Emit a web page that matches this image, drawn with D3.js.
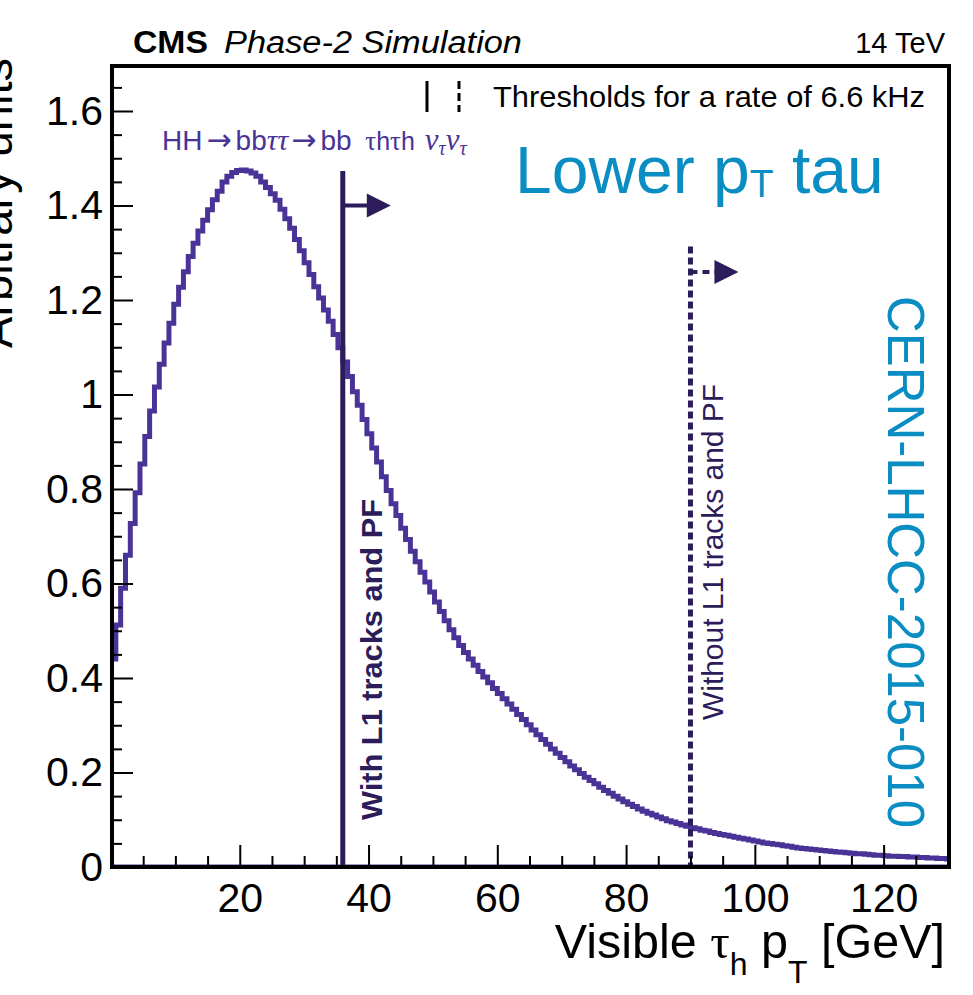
<!DOCTYPE html>
<html>
<head>
<meta charset="utf-8">
<script src="https://cdn.jsdelivr.net/npm/d3@7"></script>
<style>
  body { margin: 0; background: #fff; }
  text { font-family: "Liberation Sans", Arial, Helvetica, sans-serif; }
</style>
</head>
<body>
<div id="chart"></div>
<script>
// Histogram of visible tau_h pT, bins of 0.75 GeV starting at 0
const binWidth = 0.75;
const counts = [
  0.440, 0.512, 0.590, 0.660, 0.727, 0.792, 0.853, 0.911, 0.965, 1.016,
  1.064, 1.109, 1.151, 1.191, 1.227, 1.260, 1.292, 1.320, 1.346, 1.369,
  1.391, 1.412, 1.430, 1.450, 1.462, 1.470, 1.474, 1.475, 1.473, 1.469,
  1.462, 1.450, 1.438, 1.425, 1.411, 1.392, 1.372, 1.352, 1.328, 1.304,
  1.279, 1.254, 1.228, 1.204, 1.179, 1.155, 1.127, 1.099, 1.069, 1.038,
  1.006, 0.977, 0.947, 0.917, 0.887, 0.857, 0.826, 0.797, 0.769, 0.744,
  0.717, 0.693, 0.668, 0.646, 0.624, 0.603, 0.582, 0.561, 0.541, 0.521,
  0.502, 0.485, 0.469, 0.454, 0.440, 0.427, 0.414, 0.402, 0.390, 0.378,
  0.367, 0.356, 0.345, 0.334, 0.323, 0.312, 0.301, 0.290, 0.280, 0.270,
  0.260, 0.250, 0.241, 0.232, 0.223, 0.214, 0.206, 0.198, 0.190, 0.183,
  0.176, 0.169, 0.162, 0.156, 0.150, 0.144, 0.138, 0.133, 0.128, 0.123,
  0.118, 0.114, 0.110, 0.106, 0.102, 0.098, 0.095, 0.092, 0.089, 0.086,
  0.083, 0.081, 0.078, 0.076, 0.073, 0.071, 0.069, 0.067, 0.065, 0.063,
  0.061, 0.059, 0.057, 0.055, 0.053, 0.051, 0.050, 0.048, 0.047, 0.045,
  0.044, 0.042, 0.040, 0.039, 0.038, 0.037, 0.036, 0.035, 0.034, 0.033,
  0.032, 0.031, 0.030, 0.029, 0.028, 0.028, 0.027, 0.026, 0.025, 0.025,
  0.024, 0.023, 0.023, 0.022, 0.022, 0.021, 0.021, 0.020, 0.020, 0.019,
  0.019, 0.018, 0.018, 0.017
];

// Thresholds for a rate of 6.6 kHz
const thresholdPt = [36, 90];
const thresholdLabels = ["With L1 tracks and PF", "Without L1 tracks and PF"];
const thresholdTop = [1.473, 1.313];
const arrowLevel = [1.40, 1.259];

const xMajor = [20, 40, 60, 80, 100, 120];
const xMinor = [5, 10, 15, 25, 30, 35, 45, 50, 55, 65, 70, 75, 85, 90, 95, 105, 110, 115, 125];
const yMajor = [0, 0.2, 0.4, 0.6, 0.8, 1, 1.2, 1.4, 1.6];
const yMinor = [0.05, 0.1, 0.15, 0.25, 0.3, 0.35, 0.45, 0.5, 0.55, 0.65, 0.7, 0.75,
  0.85, 0.9, 0.95, 1.05, 1.1, 1.15, 1.25, 1.3, 1.35, 1.45, 1.5, 1.55, 1.65];

const W = 973, H = 995;
const plot = { left: 111, right: 948, top: 66, bottom: 867 };
const histColor = "#4a3396";
const lineColor = "#2c1d5a";
const cyan = "#0a8dc2";
const serif = "'Liberation Serif', 'DejaVu Serif', serif";

const svg = d3.select("#chart").append("svg")
  .attr("width", W).attr("height", H);

const x = d3.scaleLinear().domain([0, 130]).range([plot.left, plot.right]);
const y = d3.scaleLinear().domain([0, 1.6]).range([plot.bottom, 111]);

svg.append("clipPath").attr("id", "clip")
  .append("rect")
  .attr("x", plot.left).attr("y", plot.top)
  .attr("width", plot.right - plot.left).attr("height", plot.bottom - plot.top);

// Histogram as steps
const pts = [];
counts.forEach((v, i) => {
  pts.push([i * binWidth, v]);
  pts.push([(i + 1) * binWidth, v]);
});
const line = d3.line().x(d => x(d[0])).y(d => y(d[1]));

svg.append("line")
  .attr("x1", plot.left).attr("x2", plot.right)
  .attr("y1", y(0) - 2).attr("y2", y(0) - 2)
  .attr("stroke", histColor).attr("stroke-width", 1);

svg.append("path")
  .attr("clip-path", "url(#clip)")
  .attr("d", line(pts))
  .attr("fill", "none")
  .attr("stroke", histColor)
  .attr("stroke-width", 5);

// Threshold lines and arrows
thresholdPt.forEach((pt, i) => {
  const dashed = i === 1;
  svg.append("line")
    .attr("x1", x(pt)).attr("x2", x(pt))
    .attr("y1", y(thresholdTop[i])).attr("y2", plot.bottom)
    .attr("stroke", lineColor)
    .attr("stroke-width", 5)
    .attr("stroke-dasharray", dashed ? "7,4" : null);
  const ay = y(arrowLevel[i]);
  svg.append("line")
    .attr("x1", x(pt)).attr("x2", x(pt) + 26)
    .attr("y1", ay).attr("y2", ay)
    .attr("stroke", lineColor)
    .attr("stroke-width", 4)
    .attr("stroke-dasharray", dashed ? "7,5" : null);
  svg.append("path")
    .attr("d", `M${x(pt) + 24},${ay - 12}L${x(pt) + 48},${ay}L${x(pt) + 24},${ay + 12}Z`)
    .attr("fill", lineColor);
});

svg.append("text")
  .attr("transform", `translate(382,820) rotate(-90)`)
  .attr("fill", lineColor)
  .style("font-size", "30px").style("font-weight", "bold")
  .attr("textLength", 321).attr("lengthAdjust", "spacingAndGlyphs")
  .text(thresholdLabels[0]);

svg.append("text")
  .attr("transform", `translate(723,720) rotate(-90)`)
  .attr("fill", lineColor)
  .style("font-size", "30px")
  .attr("textLength", 336).attr("lengthAdjust", "spacingAndGlyphs")
  .text(thresholdLabels[1]);

// Axes
svg.append("g")
  .attr("transform", `translate(${plot.left},0)`)
  .call(d3.axisLeft(y).tickValues(yMajor).tickSize(-22).tickPadding(8).tickFormat(d3.format("~g")));
svg.append("g")
  .attr("transform", `translate(${plot.left},0)`)
  .call(d3.axisLeft(y).tickValues(yMinor).tickSize(-11).tickFormat(""));

svg.append("g")
  .attr("transform", `translate(0,${plot.bottom})`)
  .call(d3.axisBottom(x).tickValues(xMajor).tickSize(-22).tickPadding(16));
svg.append("g")
  .attr("transform", `translate(0,${plot.bottom})`)
  .call(d3.axisBottom(x).tickValues(xMinor).tickSize(-11).tickFormat(""));

svg.selectAll(".domain").remove();
svg.selectAll(".tick line").attr("stroke", "#000").attr("stroke-width", 2);
svg.selectAll(".tick text")
  .attr("fill", "#000")
  .style("font-size", "41px")
  .style("font-family", "'Liberation Sans', Arial, sans-serif");

// Frame
svg.append("rect")
  .attr("x", plot.left + 1).attr("y", plot.top)
  .attr("width", plot.right - plot.left).attr("height", plot.bottom - plot.top)
  .attr("fill", "none").attr("stroke", "#000").attr("stroke-width", 4);

// Axis titles
const xt = svg.append("text")
  .attr("x", 945).attr("y", 958)
  .attr("text-anchor", "end")
  .style("font-size", "48.5px");
xt.append("tspan").text("Visible ");
xt.append("tspan").style("font-family", serif).text("τ");
xt.append("tspan").attr("dy", 17).style("font-size", "32px").text("h");
xt.append("tspan").attr("dy", -17).text(" p");
xt.append("tspan").attr("dy", 25).style("font-size", "32px").text("T");
xt.append("tspan").attr("dy", -25).text(" [GeV]");

svg.append("text")
  .attr("transform", "translate(12,58) rotate(-90)")
  .attr("text-anchor", "end")
  .style("font-size", "47px")
  .text("Arbitrary units");

// Header
svg.append("text")
  .attr("x", 133).attr("y", 53)
  .style("font-size", "31px").style("font-weight", "bold")
  .attr("textLength", 75).attr("lengthAdjust", "spacingAndGlyphs")
  .text("CMS");
svg.append("text")
  .attr("x", 224).attr("y", 53)
  .style("font-size", "31px").style("font-style", "italic")
  .attr("textLength", 298).attr("lengthAdjust", "spacingAndGlyphs")
  .text("Phase-2 Simulation");
svg.append("text")
  .attr("x", 945).attr("y", 53)
  .attr("text-anchor", "end")
  .style("font-size", "29px")
  .text("14 TeV");

// Legend
svg.append("line")
  .attr("x1", 427).attr("x2", 427).attr("y1", 81).attr("y2", 112)
  .attr("stroke", "#000").attr("stroke-width", 3);
svg.append("line")
  .attr("x1", 459).attr("x2", 459).attr("y1", 81).attr("y2", 112)
  .attr("stroke", "#000").attr("stroke-width", 3)
  .attr("stroke-dasharray", "8,4");
svg.append("text")
  .attr("x", 493).attr("y", 107)
  .style("font-size", "30px")
  .attr("textLength", 432).attr("lengthAdjust", "spacingAndGlyphs")
  .text("Thresholds for a rate of 6.6 kHz");

// Process label
const proc = svg.append("text")
  .attr("x", 162).attr("y", 150)
  .attr("fill", histColor)
  .style("font-size", "28px");
const arrowFont = "'DejaVu Sans', sans-serif";
proc.append("tspan").text("HH");
proc.append("tspan").attr("dx", 4).style("font-family", arrowFont).style("font-size", "30px").text("→");
proc.append("tspan").attr("dx", 4).text("bb");
proc.append("tspan").style("font-family", serif).style("font-style", "italic").style("font-size", "30px").text("ττ");
proc.append("tspan").attr("dx", 3).style("font-family", arrowFont).style("font-size", "30px").text("→");
proc.append("tspan").attr("dx", 4).text("bb ");
proc.append("tspan").attr("dx", 6).style("font-family", serif).style("font-size", "27px").text("τ");
proc.append("tspan").style("font-size", "25px").text("h");
proc.append("tspan").style("font-family", serif).style("font-size", "27px").text("τ");
proc.append("tspan").style("font-size", "25px").text("h ");
proc.append("tspan").attr("dx", 3).style("font-family", serif).style("font-style", "italic").style("font-size", "31px").text("ν");
proc.append("tspan").attr("dy", 5).style("font-family", serif).style("font-style", "italic").style("font-size", "20px").text("τ");
proc.append("tspan").attr("dy", -5).style("font-family", serif).style("font-style", "italic").style("font-size", "31px").text("ν");
proc.append("tspan").attr("dy", 5).style("font-family", serif).style("font-style", "italic").style("font-size", "20px").text("τ");

// Big cyan labels
const lower = svg.append("text")
  .attr("x", 515).attr("y", 193)
  .attr("fill", cyan)
  .style("font-size", "66px");
lower.append("tspan").text("Lower p");
lower.append("tspan").attr("dy", 4).style("font-size", "39px").text("T");
lower.append("tspan").attr("dy", -4).text(" tau");

svg.append("text")
  .attr("transform", "translate(888,296) rotate(90)")
  .attr("fill", cyan)
  .style("font-size", "52px")
  .attr("textLength", 532).attr("lengthAdjust", "spacingAndGlyphs")
  .text("CERN-LHCC-2015-010");
</script>
</body>
</html>
